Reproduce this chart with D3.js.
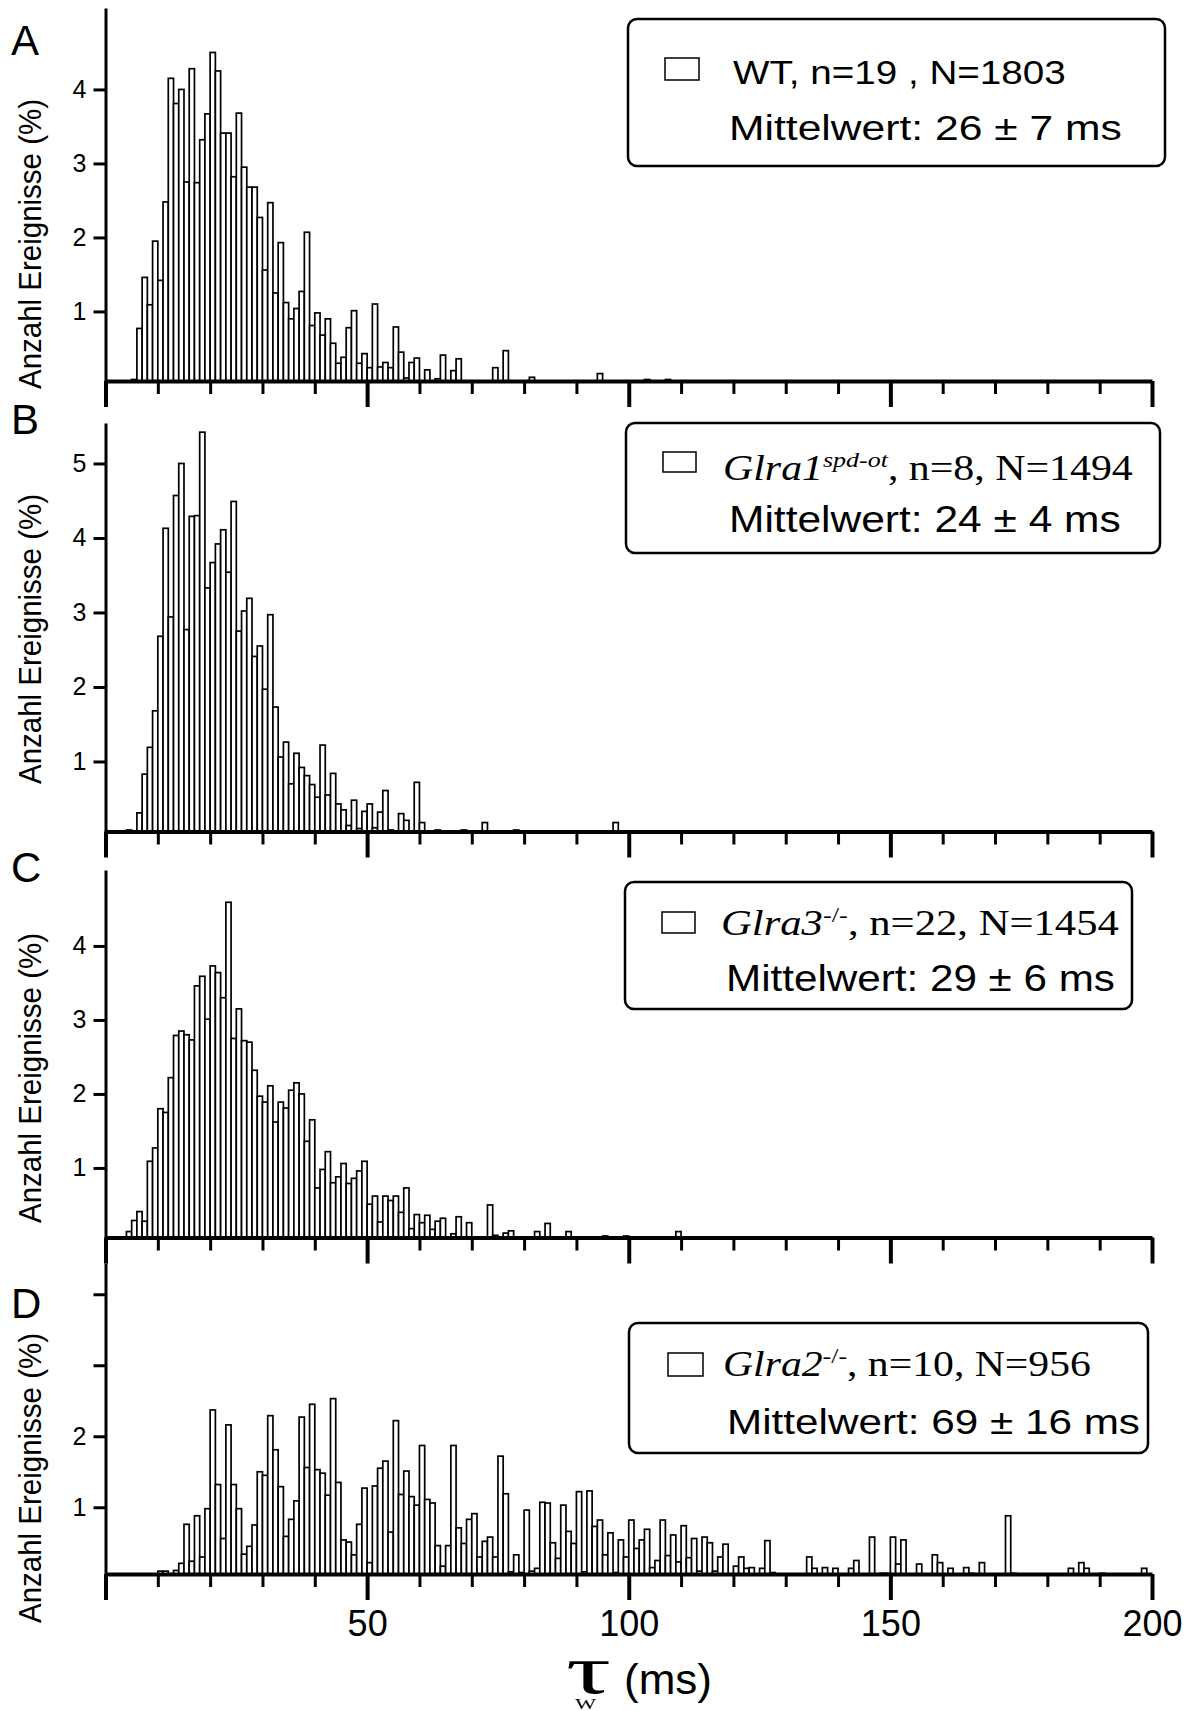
<!DOCTYPE html>
<html><head><meta charset="utf-8">
<script src="https://cdn.jsdelivr.net/npm/d3@7"></script>
<style>body{margin:0;background:#fff}svg{display:block}</style>
</head><body>
<script>
// ---------- DATA (percent of events per 1 ms bin; index = bin start in ms) ----------
const binWidth = 1;
const xTicks = [0,10,20,30,40,50,60,70,80,90,100,110,120,130,140,150,160,170,180,190,200];
const xTickLabels = [50,100,150,200];
const panelLetters = ["A","B","C","D"];
const yTitle = "Anzahl Ereignisse (%)";
const xTitleSymbol = "τ", xTitleSub = "W", xTitleUnit = "(ms)";

const wtValues = [0,0,0,0,0,0.08,0.77,1.46,1.09,1.95, 1.42,2.48,4.15,3.81,4.0,2.75,4.28,2.74,3.32,3.67,
 4.5,4.25,3.41,3.41,2.82,3.68,2.95,2.68,2.68,2.27, 1.56,2.47,1.25,1.93,1.12,0.9,1.04,1.27,2.07,0.81,
 0.98,0.68,0.9,0.57,0.3,0.38,0.78,1.01,0.3,0.43, 0.24,1.1,0.25,0.31,0.24,0.79,0.45,0.1,0.31,0.37,
 0,0.21,0,0.09,0.41,0,0.2,0.36,0,0, 0,0,0,0,0.24,0,0.47,0,0,0, 0,0.11,0,0,0,0,0,0,0,0,
 0,0,0,0,0.16,0,0,0,0,0, 0,0,0,0.08,0,0,0,0.08];
const spdValues = [0,0,0,0,0.08,0,0.31,0.83,1.19,1.68, 2.68,4.13,2.94,4.57,5.0,2.77,4.29,4.30,5.42,3.33,
 3.67,3.92,4.11,3.54,4.49,2.75,3.02,3.19,2.41,2.55, 1.97,2.97,1.73,1.06,1.26,0.70,1.11,0.92,0.81,0.69,
 0.52,1.22,0.55,0.84,0.43,0.35,0.14,0.48,0.10,0.33, 0.43,0.11,0.32,0.61,0.08,0,0.30,0.21,0,0.72,
 0.18,0,0,0.08,0,0,0,0,0.08,0, 0,0,0.18,0,0,0,0,0,0.08,0, 0,0,0,0,0,0,0,0,0,0,
 0,0,0,0,0,0,0,0.18];
const glra3Values = [0,0,0,0,0.14,0.29,0.41,0.28,1.09,1.27, 1.80,1.75,2.22,2.79,2.85,2.80,2.73,3.46,3.59,3.01,
 3.73,3.64,3.30,4.59,2.75,3.15,2.72,2.70,2.32,1.97, 1.89,2.11,1.62,1.89,1.81,2.05,2.15,2.0,1.36,1.65,
 0.73,0.98,1.22,0.80,0.88,1.06,0.79,0.86,0.96,1.09, 0.51,0.62,0.27,0.62,0.56,0.62,0.40,0.73,0.18,0.37,
 0.26,0.36,0.17,0.28,0.32,0,0.11,0.34,0,0.26, 0,0,0,0.50,0.09,0,0.12,0.15,0,0, 0,0,0.14,0,0.25,0,0,0,0.14,0,
 0,0,0,0,0,0.08,0,0,0,0.08, 0,0,0,0,0,0,0,0,0,0.14];
const glra2Values = [0,0,0,0,0,0,0,0,0,0, 0.10,0.10,0,0.11,0.21,0.76,0.24,0.88,0.30,0.98,
 2.37,1.32,0.56,2.16,1.32,0.98,0.34,0.45,0.75,1.50, 1.45,2.29,1.81,1.29,0.59,0.83,1.09,2.27,1.56,2.45,
 1.53,1.48,1.17,2.53,1.35,0.54,0.51,0.33,0.76,1.27, 0.22,1.30,1.55,1.65,0.65,2.22,1.18,1.51,1.15,1.03,
 1.87,1.11,1.06,0.46,0.17,0.46,1.87,0.71,0.49,0.83, 0.91,0.30,0.52,0.58,0.30,1.72,1.19,0.09,0.33,0.08,
 0.96,0.10,0.14,1.07,1.06,0.50,0.28,1.03,0.66,0.49, 1.22,0.09,1.23,0.73,0.82,0.33,0.64,0.08,0.54,0.30,
 0.82,0.42,0.54,0.69,0.15,0.25,0.82,0.32,0.61,0.23, 0.74,0.29,0.56,0.10,0.58,0.50,0.10,0.30,0.48,0.06,
 0.17,0.30,0.14,0.15,0,0.14,0.53,0.08,0,0, 0,0,0,0,0.30,0.14,0,0.15,0,0.14,
 0,0,0.14,0.25,0,0,0.58,0,0.07,0.07, 0.58,0.20,0.54,0,0,0.20,0,0,0.33,0.22,
 0,0.14,0,0,0.15,0.07,0,0.22,0,0, 0,0,0.88,0.07,0,0,0,0,0,0,
 0,0,0,0,0.14,0,0.22,0.14,0,0, 0.07,0,0,0,0,0,0,0,0.14];

const yTicksA = [1,2,3,4], yTicksB = [1,2,3,4,5], yTicksC = [1,2,3,4], yTicksD = [1,2,3,4];
const yLabelsD = [1,2];

const legendLine1 = [
  [{t:"WT, n=19 , N=1803"}],
  [{t:"Glra1",i:1},{t:"spd-ot",i:1,sup:1},{t:", n=8, N=1494"}],
  [{t:"Glra3",i:1},{t:"-/-",sup:1},{t:", n=22, N=1454"}],
  [{t:"Glra2",i:1},{t:"-/-",sup:1},{t:", n=10, N=956"}]
];
const legendLine2 = ["Mittelwert: 26 ± 7 ms","Mittelwert: 24 ± 4 ms","Mittelwert: 29 ± 6 ms","Mittelwert: 69 ± 16 ms"];

// ---------- LAYOUT ----------
const W = 1195, H = 1711;
const SANS = "'Liberation Sans', Arial, Helvetica, sans-serif";
const SERIF = "'Liberation Serif', 'Times New Roman', serif";
const floorV = 0.06;
const layout = [
  {values: wtValues,   base: 381,    unit: 74,   top: 8,    ticks: yTicksA, labels: yTicksA, letterY: 55,   titleY: 244,
   box:[628,19,537,147], sw:[665,58,34,22], l1:[733,84,333,"sans",34], l2:[729,140,393]},
  {values: spdValues,  base: 831.5,  unit: 74.5, top: 423,  ticks: yTicksB, labels: yTicksB, letterY: 434,  titleY: 639,
   box:[626,423,534,130], sw:[663,452,33,20], l1:[723,480,410,"serif",35], l2:[729,532,392]},
  {values: glra3Values,base: 1237.5, unit: 74,   top: 870,  ticks: yTicksC, labels: yTicksC, letterY: 882,  titleY: 1078,
   box:[625,882,507,127], sw:[662,912,33,21], l1:[721,935,398,"serif",35], l2:[726,991,389]},
  {values: glra2Values,base: 1574,   unit: 71,   top: 1263, ticks: yTicksD, labels: yLabelsD, letterY: 1318, titleY: 1478,
   box:[629,1323,519,130], sw:[668,1353,35,23], l1:[723,1376,368,"serif",35], l2:[727,1434,413]}
];

const svg = d3.select("body").append("svg").attr("width", W).attr("height", H)
  .style("font-family", SANS);

const x = d3.scaleLinear().domain([0, 200]).range([105.5, 1152]);

function fitWidth(sel, x0, target) {
  const w = sel.node().getBBox().width;
  if (w > 0) sel.attr("transform", `translate(${x0},0) scale(${target / w},1) translate(${-x0},0)`);
}

layout.forEach((p, pi) => {
  const yMax = floorV + (p.base - p.top) / p.unit;
  const y = d3.scaleLinear().domain([floorV, yMax]).range([p.base, p.top]);
  const g = svg.append("g");

  // bars
  const data = p.values.map((v, i) => ({t: i * binWidth, v})).filter(d => d.v > floorV);
  g.append("g").selectAll("rect").data(data).join("rect")
    .attr("x", d => x(d.t)).attr("width", d => x(d.t + binWidth) - x(d.t))
    .attr("y", d => y(d.v)).attr("height", d => y(floorV) - y(d.v))
    .attr("fill", "#fff").attr("stroke", "#000").attr("stroke-width", 1.7);

  // x axis
  const xa = g.append("g").attr("transform", `translate(0,${y(floorV)})`)
    .call(d3.axisBottom(x).tickValues(xTicks).tickSize(13).tickSizeOuter(0)
      .tickFormat(d => (pi === 3 && xTickLabels.includes(d)) ? d : ""));
  xa.select(".domain").attr("stroke-width", 4);
  xa.selectAll(".tick line").attr("stroke-width", 3)
    .filter(d => d % 50 === 0).attr("y2", 26).attr("stroke-width", 4);
  xa.selectAll(".tick text").attr("font-size", 36).attr("font-family", SANS).attr("fill", "#000").attr("y", 36).attr("dy", "0.71em");

  // y axis
  const ya = g.append("g").attr("transform", `translate(${x(0)},0)`)
    .call(d3.axisLeft(y).tickValues(p.ticks).tickSize(12).tickSizeOuter(0)
      .tickFormat(d => p.labels.includes(d) ? d : ""));
  ya.select(".domain").attr("stroke-width", 3);
  ya.selectAll(".tick line").attr("stroke-width", 3);
  ya.selectAll(".tick text").attr("font-size", 25).attr("font-family", SANS).attr("fill", "#000").attr("x", -19);

  // y title
  svg.append("text").attr("transform", `translate(41,${p.titleY}) rotate(-90)`)
    .attr("text-anchor", "middle").attr("font-size", 31).attr("textLength", 290)
    .attr("lengthAdjust", "spacingAndGlyphs").text(yTitle);

  // panel letter
  svg.append("text").attr("x", 11).attr("y", p.letterY).attr("font-size", 42).text(panelLetters[pi]);

  // legend
  const [bx, by, bw, bh] = p.box;
  svg.append("rect").attr("x", bx).attr("y", by).attr("width", bw).attr("height", bh)
    .attr("rx", 9).attr("fill", "#fff").attr("stroke", "#000").attr("stroke-width", 2.5);
  const [sx, sy, sww, sh] = p.sw;
  svg.append("rect").attr("x", sx).attr("y", sy).attr("width", sww).attr("height", sh)
    .attr("fill", "#fff").attr("stroke", "#000").attr("stroke-width", 1.5);
  const [lx, ly, lw, lf, ls] = p.l1;
  const t1 = svg.append("text").attr("x", lx).attr("y", ly).attr("font-size", ls)
    .attr("font-family", lf === "serif" ? SERIF : SANS);
  legendLine1[pi].forEach((s, si) => {
    const ts = t1.append("tspan").text(s.t);
    if (s.i) ts.attr("font-style", "italic");
    if (s.sup) ts.attr("font-size", ls * 0.62).attr("dy", -13);
    else if (si > 0 && legendLine1[pi][si - 1].sup) ts.attr("dy", 13);
  });
  fitWidth(t1, lx, lw);
  const [mx, my, mw] = p.l2;
  const t2 = svg.append("text").attr("x", mx).attr("y", my).attr("font-size", 36).text(legendLine2[pi]);
  fitWidth(t2, mx, mw);
});

// x axis title: tau with subscript W in one text element
const tauX = 566;
const tau = svg.append("text").attr("x", tauX).attr("y", 1693).attr("font-family", SERIF).attr("font-size", 70);
const tauMain = tau.append("tspan").text(xTitleSymbol);
const tauW = tauMain.node().getComputedTextLength();
const k = 45 / tauW;
tau.append("tspan").attr("font-size", 14).attr("dx", -tauW + 9 / k).attr("dy", 16).text(xTitleSub);
tau.attr("transform", `translate(${tauX},0) scale(${k},1) translate(${-tauX},0)`);
const xu = svg.append("text").attr("x", 624).attr("y", 1694).attr("font-family", SANS).attr("font-size", 42).text(xTitleUnit);
fitWidth(xu, 624, 88);
</script>
</body></html>
